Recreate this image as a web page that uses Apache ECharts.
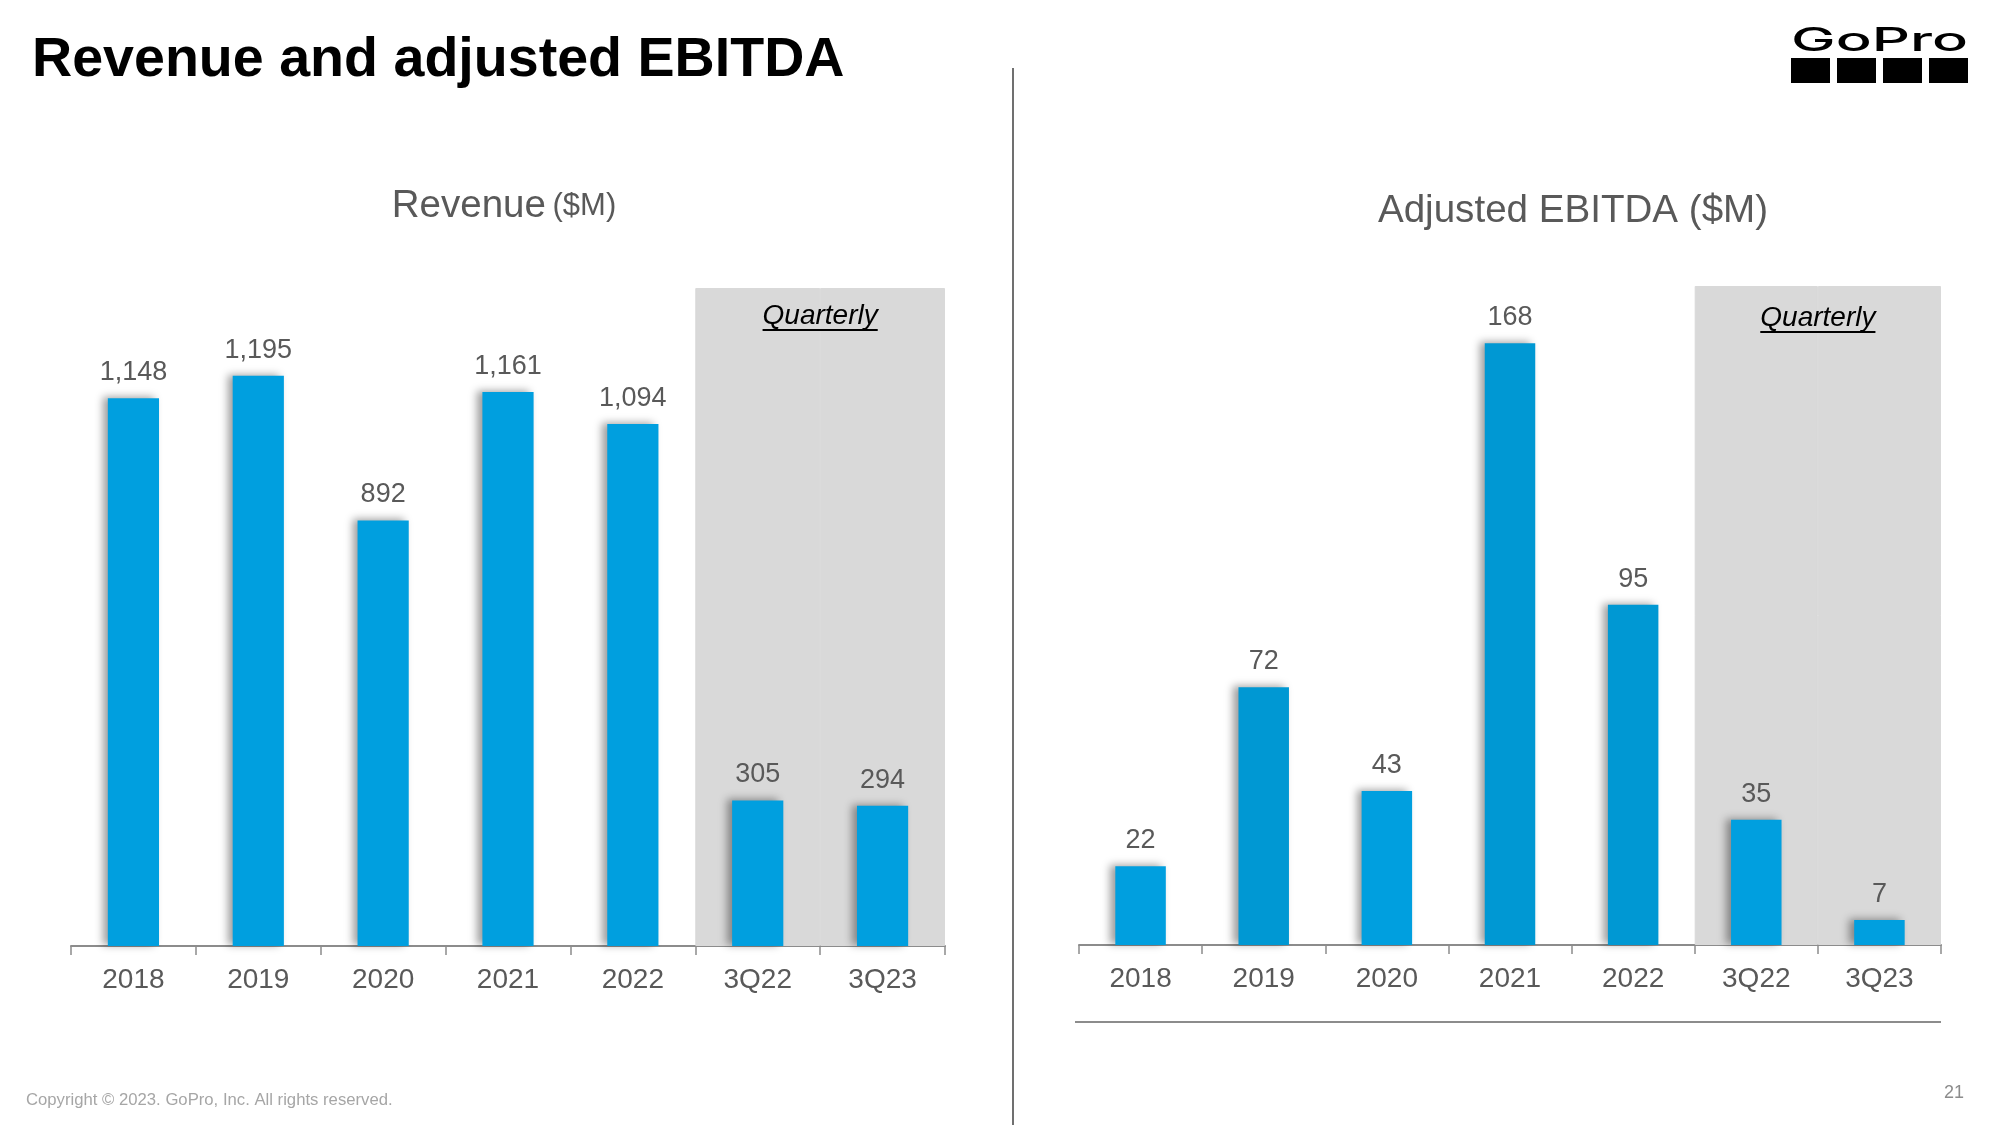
<!DOCTYPE html>
<html>
<head>
<meta charset="utf-8">
<script src="https://cdn.jsdelivr.net/npm/echarts@6/dist/echarts.min.js"></script>
<style>
html,body{margin:0;padding:0;background:#fff;}
#chart{width:2000px;height:1125px;}
</style>
</head>
<body>
<div id="chart"></div>
<script>
// ---- data ----
const categories = ['2018', '2019', '2020', '2021', '2022', '3Q22', '3Q23'];
const revenue = [1148, 1195, 892, 1161, 1094, 305, 294];
const ebitda = [22, 72, 43, 168, 95, 35, 7];
const quarterlyCats = ['3Q22', '3Q23'];

// ---- styles ----
const FONT = '"Liberation Sans", Arial, sans-serif';
const BLUE = '#009FDF';
const BLUE_DARK = '#0098D3';
const ebitdaColors = [BLUE, BLUE_DARK, BLUE, BLUE_DARK, BLUE_DARK, BLUE, BLUE];
const revMax = 1379, ebMax = 184;

const chart = echarts.init(document.getElementById('chart'), null, {renderer: 'canvas'});

function bgData(maxV) {
  return categories.map(c => quarterlyCats.includes(c) ? maxV : null);
}

function xAxisVisible(gi) {
  return {
    type: 'category', gridIndex: gi, data: categories,
    axisLine: {lineStyle: {color: '#8c8c8c', width: 2}},
    axisTick: {show: true, length: 9, lineStyle: {color: '#8c8c8c', width: 1.5}},
    axisLabel: {fontFamily: FONT, fontSize: 28, color: '#595959', margin: 20}
  };
}
function xAxisHidden(gi) {
  return {type: 'category', gridIndex: gi, data: categories, show: false};
}
function yAxis(gi, maxV) {
  return {type: 'value', gridIndex: gi, min: 0, max: maxV, show: false, splitLine: {show: false}};
}
const shadow = {shadowColor: 'rgba(0,0,0,0.38)', shadowBlur: 8, shadowOffsetX: -5, shadowOffsetY: -1};
const valueLabel = {
  show: true, position: 'top', distance: 12,
  fontFamily: FONT, fontSize: 27, color: '#595959',
  formatter: p => echarts.format.addCommas(p.value)
};
const bgStyle = {color: '#d9d9d9', borderColor: '#d9d9d9', borderWidth: 1};

chart.setOption({
  animation: false,
  backgroundColor: '#ffffff',
  grid: [
    {left: 71, right: 1055, top: 288, bottom: 179},
    {left: 1079, right: 59, top: 286, bottom: 180}
  ],
  xAxis: [xAxisVisible(0), xAxisHidden(0), xAxisVisible(1), xAxisHidden(1)],
  yAxis: [yAxis(0, revMax), yAxis(1, ebMax)],
  series: [
    {type: 'bar', xAxisIndex: 1, yAxisIndex: 0, data: bgData(revMax), barWidth: '100%',
     itemStyle: bgStyle, z: 1, silent: true},
    {type: 'bar', xAxisIndex: 0, yAxisIndex: 0, data: revenue, barWidth: '41%',
     itemStyle: Object.assign({color: BLUE}, shadow), label: valueLabel, z: 3},
    {type: 'bar', xAxisIndex: 3, yAxisIndex: 1, data: bgData(ebMax), barWidth: '100%',
     itemStyle: bgStyle, z: 1, silent: true},
    {type: 'bar', xAxisIndex: 2, yAxisIndex: 1,
     data: ebitda.map((v, i) => ({value: v, itemStyle: {color: ebitdaColors[i]}})),
     barWidth: '41%', itemStyle: Object.assign({color: BLUE}, shadow), label: valueLabel, z: 3}
  ]
});

// measure helper
const mctx = document.createElement('canvas').getContext('2d');
function measure(text, font) { mctx.font = font; return mctx.measureText(text).width; }

const qFont = 'italic 28px ' + FONT;
const qW = measure('Quarterly', qFont);
const graphics = [];

[[0, revMax, 316], [1, ebMax, 318]].forEach(([gi, maxV, yText]) => {
  const xi = gi === 0 ? 0 : 2, yi = gi;
  const a = chart.convertToPixel({xAxisIndex: xi, yAxisIndex: yi}, [quarterlyCats[0], 0]);
  const b = chart.convertToPixel({xAxisIndex: xi, yAxisIndex: yi}, [quarterlyCats[1], 0]);
  const cx = (a[0] + b[0]) / 2;
  graphics.push({type: 'text', x: cx, y: yText, z: 10,
    style: {text: 'Quarterly', font: qFont, fill: '#000', align: 'center', verticalAlign: 'middle'}});
  graphics.push({type: 'line', z: 10,
    shape: {x1: cx - qW / 2, y1: yText + 14, x2: cx + qW / 2, y2: yText + 14},
    style: {stroke: '#000', lineWidth: 2}});
});

// Title
graphics.push({type: 'text', x: 32, y: 61, style: {text: 'Revenue and adjusted EBITDA',
  font: 'bold 55.6px ' + FONT, fill: '#000', align: 'left', verticalAlign: 'middle'}});
// Subtitles
graphics.push({type: 'text', x: 504, y: 206, style: {
  text: '{a|Revenue}  {b|($M)}', align: 'center', verticalAlign: 'middle', fill: '#595959',
  rich: {a: {fontFamily: FONT, fontSize: 38.5, fill: '#595959'},
         b: {fontFamily: FONT, fontSize: 31, fill: '#595959'}}}});
graphics.push({type: 'text', x: 1573, y: 211, style: {text: 'Adjusted EBITDA ($M)',
  font: '38.6px ' + FONT, fill: '#595959', align: 'center', verticalAlign: 'middle'}});
// Divider
graphics.push({type: 'line', shape: {x1: 1013, y1: 68, x2: 1013, y2: 1125},
  style: {stroke: '#404040', lineWidth: 1.5}});
// Bottom line under right chart
graphics.push({type: 'line', shape: {x1: 1075, y1: 1022, x2: 1941, y2: 1022},
  style: {stroke: '#8c8c8c', lineWidth: 2}});
// Footer
graphics.push({type: 'text', x: 26, y: 1100, style: {text: 'Copyright \u00A9 2023. GoPro, Inc. All rights reserved.',
  font: '16.7px ' + FONT, fill: '#a6a6a6', align: 'left', verticalAlign: 'middle'}});
graphics.push({type: 'text', x: 1964, y: 1093, style: {text: '21',
  font: '18px ' + FONT, fill: '#8c8c8c', align: 'right', verticalAlign: 'middle'}});
// Logo
const logoFont = '500 33px Inter, "DejaVu Sans", sans-serif';
const logoW = measure('GoPro', logoFont);
graphics.push({type: 'text', x: 1791, y: 41, scaleX: 177 / logoW, scaleY: 1.0,
  style: {text: 'GoPro', font: logoFont, fill: '#000', align: 'left', verticalAlign: 'middle'}});
[[1791, 1830], [1837, 1876], [1883, 1922], [1929, 1968]].forEach(([x1, x2]) => {
  graphics.push({type: 'rect', shape: {x: x1, y: 58, width: x2 - x1, height: 25}, style: {fill: '#000'}});
});

chart.setOption({graphic: graphics});
</script>
</body>
</html>
